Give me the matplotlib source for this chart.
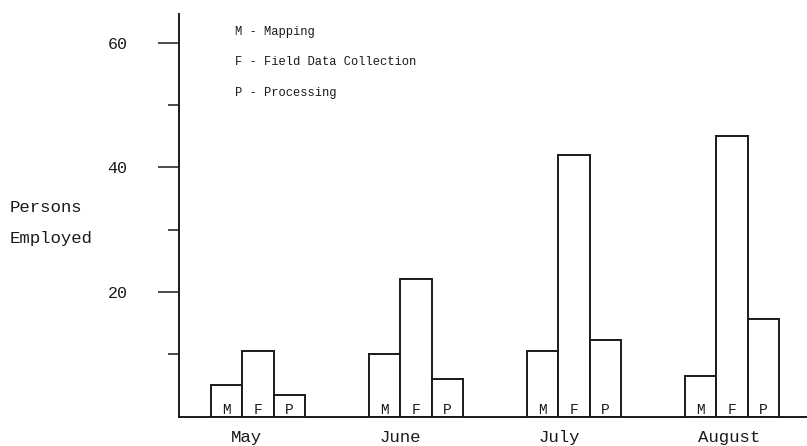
import matplotlib
matplotlib.use("Agg")
import matplotlib.pyplot as plt
import numpy as np

months = ["May", "June", "July", "August"]
mapping = [5, 10, 10.5, 6.5]
field = [10.5, 22, 42, 45]
processing = [3.5, 6, 12.3, 15.7]
codes = ["M", "F", "P"]
legend_lines = ["M - Mapping", "F - Field Data Collection", "P - Processing"]
y_major = [20, 40, 60]
y_minor = [10, 30, 50]

FONT = ["Liberation Mono", "DejaVu Sans Mono"]
plt.rcParams["font.family"] = FONT
INK = "#1a1a1a"

fig = plt.figure(figsize=(8.07, 4.46), dpi=100)
ax = fig.add_axes([179 / 807, 29.5 / 446, 628 / 807, 402.5 / 446])

x = np.arange(len(months))
w = 0.198
series = [mapping, field, processing]
for i, (vals, code) in enumerate(zip(series, codes)):
    pos = x + (i - 1) * w
    ax.bar(pos, vals, width=w, facecolor="white", edgecolor=INK, linewidth=1.4, zorder=2)
    for p in pos:
        ax.text(p, 1.1, code, ha="center", va="center", fontsize=10.5, color=INK, zorder=3)

ax.set_xlim(-0.5, 3.475)
ax.set_ylim(0, 64.6)

for s in ["top", "right"]:
    ax.spines[s].set_visible(False)
for s in ["left", "bottom"]:
    ax.spines[s].set_linewidth(1.4)
    ax.spines[s].set_color(INK)

ax.set_yticks(y_major)
ax.set_yticklabels([str(v) for v in y_major], fontsize=12, color=INK)
ax.set_yticks(y_minor, minor=True)
ax.tick_params(axis="y", which="major", length=15, width=1.1, pad=22, color=INK)
ax.tick_params(axis="y", which="minor", length=8, width=1.1, color=INK)

label_offsets = [-0.07, -0.10, -0.095, -0.015]
ax.set_xticks(x + np.array(label_offsets))
ax.set_xticklabels(months, fontsize=12.5, color=INK)
ax.tick_params(axis="x", length=0, pad=10)

fig.text(10 / 807, 1 - 207 / 446, "Persons", fontsize=12.5, color=INK, va="center", ha="left")
fig.text(10 / 807, 1 - 238 / 446, "Employed", fontsize=12.5, color=INK, va="center", ha="left")

for txt, yy in zip(legend_lines, [31.7, 61.7, 93.3]):
    fig.text(235 / 807, 1 - yy / 446, txt, fontsize=8.7, color=INK, va="center", ha="left")

fig.savefig("out.png", dpi=100, facecolor="white")
